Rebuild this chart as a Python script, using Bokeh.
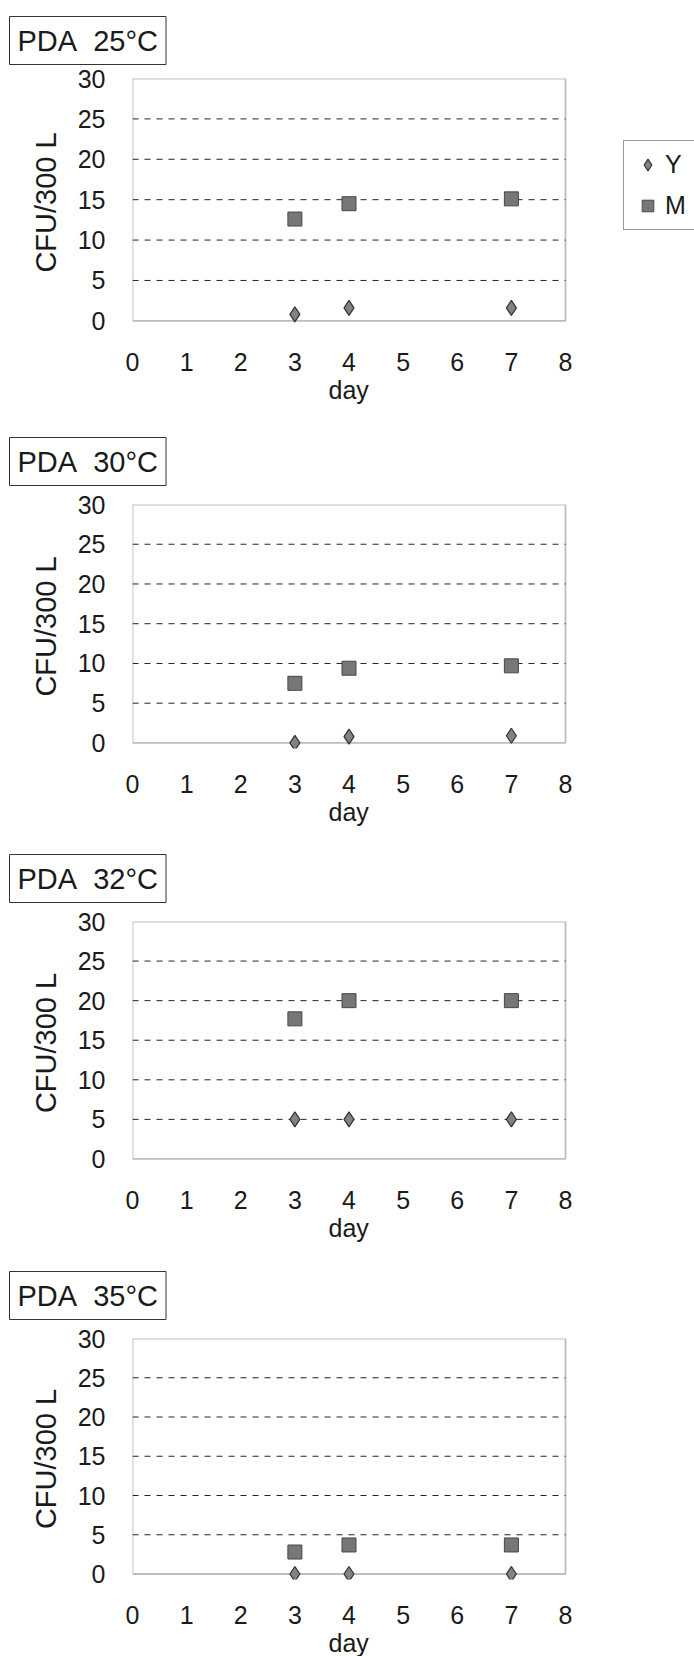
from bokeh.plotting import figure
from bokeh.models import Range1d, FixedTicker, BoxAnnotation, Legend, LegendItem, Title
from bokeh.layouts import column
from bokeh.embed import file_html
from bokeh.resources import INLINE

# Sampling days and counts per medium/temperature (Y = yeast, M = mould)
days = [3, 4, 7]

panel_titles = ["PDA\u00a0\u00a025°C", "PDA\u00a0\u00a030°C",
                "PDA\u00a0\u00a032°C", "PDA\u00a0\u00a035°C"]

y_25 = [0.8, 1.6, 1.6]
m_25 = [12.6, 14.5, 15.1]

y_30 = [0.0, 0.8, 0.9]
m_30 = [7.5, 9.4, 9.7]

y_32 = [5.0, 5.0, 5.0]
m_32 = [17.7, 20.0, 20.0]

y_35 = [0.0, 0.0, 0.0]
m_35 = [2.8, 3.7, 3.7]

x_ticks = [0, 1, 2, 3, 4, 5, 6, 7, 8]
y_ticks = [0, 5, 10, 15, 20, 25, 30]
grid_levels = [5, 10, 15, 20, 25]

X_MIN, X_MAX = 0, 8
Y_MIN, Y_MAX = 0, 30
Y_PAD = 0.7  # room below zero so markers sitting on the axis are not cut

# page geometry (px)
PAGE_W = 694
LEFT = 132          # left edge of the plotting box
BOX_W = 433         # width of the 0..8 box
# the frame runs to the page edge so the key can sit right of the box
X_VIEW_MAX = X_MAX * (PAGE_W - LEFT) / BOX_W

FONT = "Liberation Sans"
INK = "#1a1a1a"

# (figure height, top border, frame height, bottom border, caption standoff)
geometry = [
    (416, 72, 254, 90, 28),
    (417, 82, 250, 85, 38),
    (417, 82, 249, 86, 38),
    (406, 82, 249, 75, 38),
]

series = [(y_25, m_25), (y_30, m_30), (y_32, m_32), (y_35, m_35)]


def make_panel(idx):
    h, top, frame_h, bottom, cap_gap = geometry[idx]
    yv, mv = series[idx]
    p = figure(
        width=PAGE_W, height=h,
        x_range=Range1d(X_MIN, X_VIEW_MAX),
        y_range=Range1d(Y_MIN - Y_PAD, Y_MAX),
        output_backend="svg", toolbar_location=None,
        min_border_left=LEFT, min_border_right=0,
        min_border_top=top, min_border_bottom=bottom,
        background_fill_color="white", border_fill_color="white",
    )
    p.outline_line_color = None

    # boxed caption at the upper left
    p.title.text = panel_titles[idx]
    p.title.align = "left"
    p.title.offset = -123
    p.title.standoff = cap_gap
    p.title.text_font = FONT
    p.title.text_font_size = "29px"
    p.title.text_font_style = "normal"
    p.title.text_color = INK
    p.title.border_line_color = "#333333"
    p.title.border_line_width = 1
    p.title.padding = 8

    # axes
    p.xaxis.ticker = FixedTicker(ticks=x_ticks)
    p.yaxis.ticker = FixedTicker(ticks=y_ticks)
    p.yaxis.bounds = (Y_MIN, Y_MAX)
    for ax in (p.xaxis[0], p.yaxis[0]):
        ax.axis_line_color = None
        ax.major_tick_line_color = None
        ax.minor_tick_line_color = None
        ax.major_tick_in = 0
        ax.major_tick_out = 0
        ax.major_label_text_font = FONT
        ax.major_label_text_color = INK
        ax.major_label_text_font_size = "25px"
        ax.axis_label_text_font = FONT
        ax.axis_label_text_font_style = "normal"
        ax.axis_label_text_color = INK
    p.xaxis.major_label_standoff = 26

    p.yaxis.major_label_standoff = 27
    p.yaxis.axis_label = "CFU/300 L"
    p.yaxis.axis_label_text_font_size = "29px"
    p.yaxis.axis_label_standoff = 13

    # x-axis caption centred under the 0..8 box
    p.add_layout(Title(text="day", align="left", offset=196, standoff=0,
                       text_font=FONT, text_font_size="25px",
                       text_font_style="normal", text_color=INK), "below")

    # dashed horizontal gridlines across the 0..8 box only
    p.xgrid.visible = False
    p.ygrid.visible = False
    n = len(grid_levels)
    p.segment(x0=[X_MIN] * n, y0=grid_levels, x1=[X_MAX] * n, y1=grid_levels,
              line_color="#222222", line_dash="6 6", line_width=1)

    # plot border at the axis limits
    box = BoxAnnotation(left=X_MIN, right=X_MAX, bottom=Y_MIN, top=Y_MAX,
                        fill_alpha=0, line_color="#262626", line_width=1.8,
                        level="underlay")
    p.add_layout(box)

    rm = p.scatter(days, mv, marker="square", size=14,
                   fill_color="#777777", line_color="#474747", line_width=1)
    ry = p.scatter(days, yv, marker="diamond", size=15,
                   fill_color="#828282", line_color="#333333", line_width=1.2)

    if idx == 0:
        legend = Legend(items=[LegendItem(label="Y", renderers=[ry]),
                               LegendItem(label="M", renderers=[rm])],
                        location=(491, 96))
        legend.label_text_font = FONT
        legend.label_text_font_size = "25px"
        legend.label_text_color = INK
        legend.border_line_color = "#333333"
        legend.border_line_width = 1
        legend.background_fill_alpha = 1
        legend.glyph_width = 29
        legend.glyph_height = 29
        legend.label_height = 29
        legend.label_standoff = 3
        legend.spacing = 12
        legend.padding = 9
        legend.margin = 0
        p.add_layout(legend)
    return p


panels = [make_panel(i) for i in range(4)]
layout = column(*panels, spacing=0)

open("out.html", "w").write(file_html(layout, INLINE))
